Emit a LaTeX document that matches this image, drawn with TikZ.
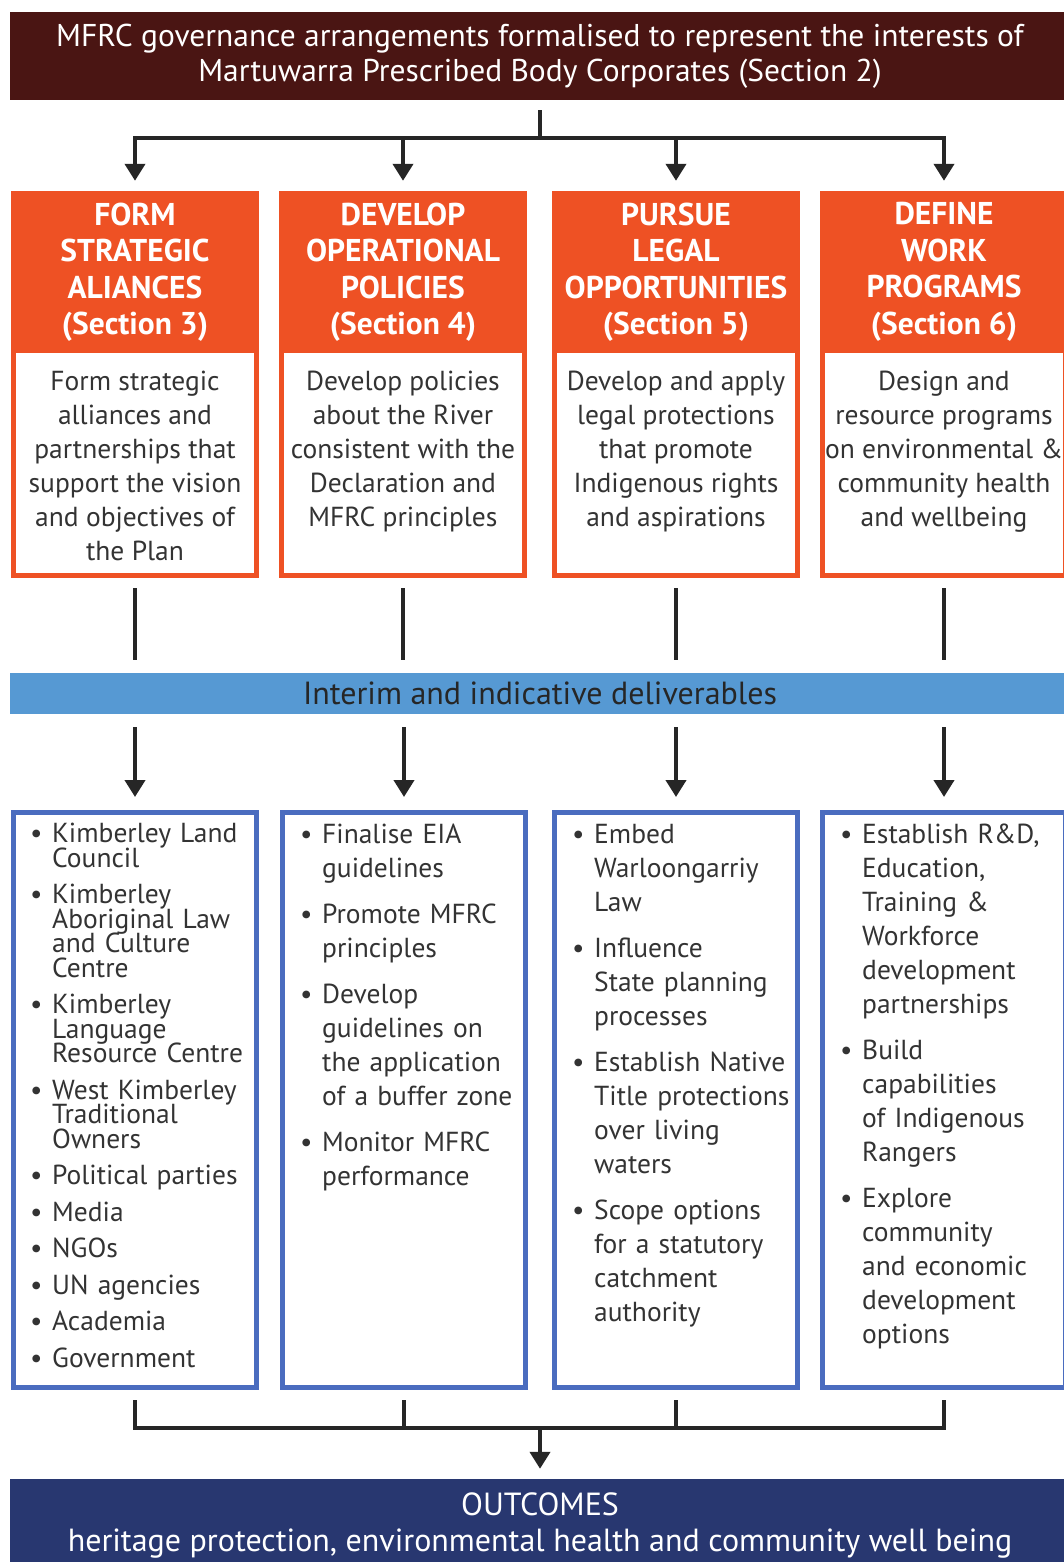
\documentclass[tikz,border=0pt]{standalone}
\usepackage{fontspec}
\setmainfont{PT Sans}
\usetikzlibrary{arrows.meta,positioning,calc}

\definecolor{govred}{HTML}{4A1513}
\definecolor{headorange}{HTML}{EE5124}
\definecolor{barblue}{HTML}{5699D3}
\definecolor{listblue}{HTML}{4A6CBF}
\definecolor{outnavy}{HTML}{283770}
\definecolor{textgrey}{HTML}{333333}

% one bullet point with hanging lines
\newcommand{\bitem}[1]{\par\noindent\hangindent=22pt\hangafter=1\makebox[22pt][l]{\textbullet}#1}
\newcommand{\nl}{\newline}

\begin{document}
\begin{tikzpicture}[
      x=1pt, y=-1pt,
      banner/.style={fill=govred, text=white, minimum width=1060pt, minimum height=88pt,
        inner sep=0pt, align=center, font=\fontsize{31.5}{35}\selectfont},
      headbox/.style={fill=headorange, text=white, minimum width=248pt, minimum height=162pt,
        inner sep=0pt, align=center, font=\bfseries\fontsize{31.5}{36.5}\selectfont},
      descbox/.style={draw=headorange, fill=white, line width=5pt, minimum width=243pt,
        minimum height=228pt, inner sep=0pt},
      desctext/.style={anchor=north, inner sep=0pt, align=center, text=textgrey,
        font=\fontsize{27.5}{34}\selectfont},
      delbar/.style={fill=barblue, text=black!85, minimum width=1060pt, minimum height=41pt,
        inner sep=0pt, font=\fontsize{32}{34}\selectfont},
      listbox/.style={draw=listblue, line width=5pt, minimum width=243pt, minimum height=575pt,
        inner sep=0pt},
      listtext/.style={anchor=north west, inner sep=0pt, text width=232pt, align=left,
        text=textgrey, font=\fontsize{27.5}{34}\selectfont,
        execute at begin node={\setlength{\parskip}{12pt}\lineskiplimit=-100pt\lineskip=0pt}},
      outcome/.style={fill=outnavy, text=white, minimum width=1060pt, minimum height=92pt,
        inner sep=0pt, align=center, font=\fontsize{32}{36}\selectfont},
      conn/.style={line width=4pt, draw=black!85},
      arr/.style={conn, -{Triangle[width=20pt,length=17pt]}},
    ]
    \useasboundingbox (0,0) rectangle (1063,1562);

    % top banner
    \node[banner] (gov) at (540,56) {MFRC governance arrangements formalised to represent the interests of\\
      Martuwarra Prescribed Body Corporates (Section 2)};

    % strategy columns
    \node[descbox] (d1) at (135,461.5) {};
    \node[descbox] (d2) at (403,461.5) {};
    \node[descbox] (d3) at (676,461.5) {};
    \node[descbox] (d4) at (944,461.5) {};

    \node[headbox] (h1) at (135,272) {FORM\\STRATEGIC\\ALIANCES\\(Section 3)};
    \node[headbox] (h2) at (403,272) {DEVELOP\\OPERATIONAL\\POLICIES\\(Section 4)};
    \node[headbox] (h3) at (676,272) {PURSUE\\LEGAL\\OPPORTUNITIES\\(Section 5)};
    \node[headbox] (h4) at (944,272) {DEFINE\\WORK\\PROGRAMS\\(Section 6)};

    \node[desctext] (t1) at (135,371) {Form strategic\\alliances and\\partnerships that\\support the vision\\and objectives of\\the Plan};
    \node[desctext] (t2) at (403,371) {Develop policies\\about the River\\consistent with the\\Declaration and\\MFRC principles};
    \node[desctext] (t3) at (676,371) {Develop and apply\\legal protections\\that promote\\Indigenous rights\\and aspirations};
    \node[desctext] (t4) at (944,371) {Design and\\resource programs\\on environmental \&\\community health\\and wellbeing};

    % deliverables
    \node[delbar] (del) at (540,693.5) {Interim and indicative deliverables};

    \node[listbox] (b1) at (135,1100) {};
    \node[listbox] (b2) at (404,1100) {};
    \node[listbox] (b3) at (676,1100) {};
    \node[listbox] (b4) at (944,1100) {};

    \node[listtext, font=\fontsize{27.5}{24.5}\selectfont] (l1) at (30,806) {%
      \bitem{Kimberley Land\nl Council}
      \bitem{Kimberley\nl Aboriginal Law\nl and Culture\nl Centre}
      \bitem{Kimberley\nl Language\nl Resource Centre}
      \bitem{West Kimberley\nl Traditional\nl Owners}
      \bitem{Political parties}
      \bitem{Media}
      \bitem{NGOs}
      \bitem{UN agencies}
      \bitem{Academia}
      \bitem{Government}\par};
    \node[listtext] (l2) at (300,797) {%
      \bitem{Finalise EIA\nl guidelines}
      \bitem{Promote MFRC\nl principles}
      \bitem{Develop\nl guidelines on\nl the application\nl of a buffer zone}
      \bitem{Monitor MFRC\nl performance}\par};
    \node[listtext] (l3) at (572,797) {%
      \bitem{Embed\nl Warloongarriy\nl Law}
      \bitem{Influence\nl State planning\nl processes}
      \bitem{Establish Native\nl Title protections\nl over living\nl waters}
      \bitem{Scope options\nl for a statutory\nl catchment\nl authority}\par};
    \node[listtext] (l4) at (840,797) {%
      \bitem{Establish R\&D,\nl Education,\nl Training \&\nl Workforce\nl development\nl partnerships}
      \bitem{Build\nl capabilities\nl of Indigenous\nl Rangers}
      \bitem{Explore\nl community\nl and economic\nl development\nl options}\par};

    % outcomes
    \node[outcome] (out) at (540,1525) {OUTCOMES\\heritage protection, environmental health and community well being};

    % connectors
    \coordinate (split) at (540,138);
    \coordinate (join) at (540,1428);

    \draw[conn, shorten <=10pt] (gov.south) -- (split);
    \draw[conn, line cap=rect] (h1 |- split) -- (h4 |- split);
    \draw[arr, shorten >=10pt] (h1 |- split) -- (h1.north);
    \draw[arr, shorten >=10pt] (h2 |- split) -- (h2.north);
    \draw[arr, shorten >=10pt] (h3 |- split) -- (h3.north);
    \draw[arr, shorten >=10pt] (h4 |- split) -- (h4.north);

    \draw[conn, shorten <=10pt, shorten >=13pt] (d1.south) -- (d1.south |- del.north);
    \draw[conn, shorten <=10pt, shorten >=13pt] (d2.south) -- (d2.south |- del.north);
    \draw[conn, shorten <=10pt, shorten >=13pt] (d3.south) -- (d3.south |- del.north);
    \draw[conn, shorten <=10pt, shorten >=13pt] (d4.south) -- (d4.south |- del.north);

    \draw[arr, shorten <=13pt, shorten >=13pt] (b1.north |- del.south) -- (b1.north);
    \draw[arr, shorten <=13pt, shorten >=13pt] (b2.north |- del.south) -- (b2.north);
    \draw[arr, shorten <=13pt, shorten >=13pt] (b3.north |- del.south) -- (b3.north);
    \draw[arr, shorten <=13pt, shorten >=13pt] (b4.north |- del.south) -- (b4.north);

    \draw[conn, shorten <=10pt] (b1.south) -- (b1.south |- join);
    \draw[conn, shorten <=10pt] (b2.south) -- (b2.south |- join);
    \draw[conn, shorten <=10pt] (b3.south) -- (b3.south |- join);
    \draw[conn, shorten <=10pt] (b4.south) -- (b4.south |- join);
    \draw[conn, line cap=rect] (b1.south |- join) -- (b4.south |- join);
    \draw[arr, shorten >=10pt] (join) -- (out.north);
\end{tikzpicture}
\end{document}
